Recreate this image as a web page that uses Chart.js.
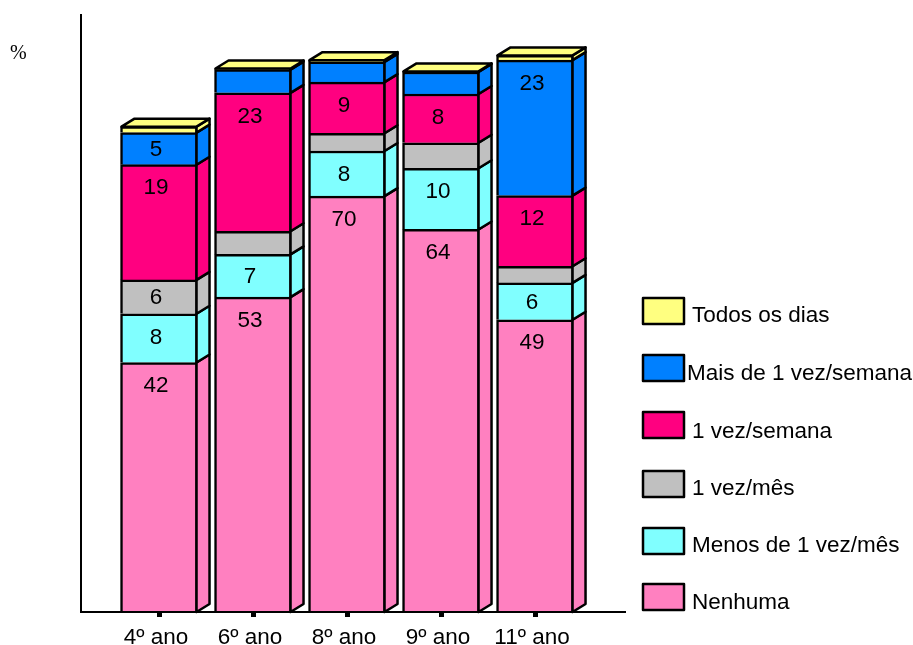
<!DOCTYPE html>
<html lang="pt">
<head>
<meta charset="utf-8">
<title>Frequência por ano</title>
<script src="https://cdn.jsdelivr.net/npm/chart.js@4"></script>
<style>
  html, body { margin: 0; padding: 0; background: #fff; }
  canvas { display: block; }
</style>
</head>
<body>
<canvas id="grafico" width="913" height="645"></canvas>
<script>
// Dados
const anos = ['4º ano', '6º ano', '8º ano', '9º ano', '11º ano'];
const nenhuma = [42, 53, 70, 64.4, 49.2];
const menosMes = [8.2, 7.2, 7.6, 10.3, 6.2];
const vezMes = [5.7, 3.9, 3.0, 4.3, 2.8];
const vezSemana = [19.4, 23.3, 8.6, 8.2, 11.9];
const maisSemana = [5.4, 3.9, 3.4, 3.7, 22.8];
const todosDias = [1.0, 0.2, 0.3, 0.1, 0.8];

const series = ['Nenhuma', 'Menos de 1 vez/mês', '1 vez/mês', '1 vez/semana', 'Mais de 1 vez/semana', 'Todos os dias'];
const valores = [nenhuma, menosMes, vezMes, vezSemana, maisSemana, todosDias];
const cores = ['#FF80C0', '#80FFFF', '#C0C0C0', '#FF0080', '#0080FF', '#FFFF80'];

const FONTE = '"Liberation Sans", Arial, sans-serif';
const TAM_FONTE = 22.5;
const DX = 13, DY = 8;   // profundidade do efeito 3D
const TRACO = 2.5;       // espessura do contorno das barras
const MIN_ROTULO = 5;    // segmentos pequenos ficam sem número

// Legenda de cima para baixo: [série, topo da caixa, x do texto, y do texto]
const legendaPos = [
    [5, 298, 692, 316],
    [4, 355, 687, 374],
    [3, 412, 692, 432],
    [2, 471, 692, 489],
    [1, 528, 692, 546],
    [0, 584, 692, 603]
];

function poligono(ctx, pts, cor) {
    ctx.beginPath();
    pts.forEach((p, i) => i ? ctx.lineTo(p[0], p[1]) : ctx.moveTo(p[0], p[1]));
    ctx.closePath();
    ctx.fillStyle = cor;
    ctx.fill();
    ctx.stroke();
}

// Faces laterais e de topo, rótulos, legenda e o símbolo de %
const barras3d = {
    id: 'barras3d',
    afterDatasetsDraw(chart) {
        const ctx = chart.ctx;
        ctx.save();
        ctx.strokeStyle = '#000';
        ctx.lineWidth = TRACO;
        ctx.lineJoin = 'round';

        chart.data.datasets.forEach((ds, d) => {
            chart.getDatasetMeta(d).data.forEach(el => {
                const dir = el.x + el.width / 2 - 1;
                poligono(ctx, [[dir, el.y], [dir + DX, el.y - DY], [dir + DX, el.base - DY], [dir, el.base]], ds.backgroundColor);
            });
        });

        const ultima = chart.data.datasets.length - 1;
        chart.getDatasetMeta(ultima).data.forEach(el => {
            const esq = el.x - el.width / 2 + 1;
            const dir = el.x + el.width / 2 - 1;
            poligono(ctx, [[esq, el.y], [esq + DX, el.y - DY], [dir + DX, el.y - DY], [dir, el.y]], cores[ultima]);
        });

        ctx.fillStyle = '#000';
        ctx.font = TAM_FONTE + 'px ' + FONTE;
        ctx.textAlign = 'center';
        ctx.textBaseline = 'middle';
        chart.data.datasets.forEach((ds, d) => {
            chart.getDatasetMeta(d).data.forEach((el, i) => {
                if (valores[d][i] < MIN_ROTULO) return;
                const altura = el.base - el.y;
                ctx.fillText(Math.round(valores[d][i]), el.x - 3, el.y + Math.min(altura / 2, 22.5) + 1);
            });
        });

        ctx.textAlign = 'left';
        legendaPos.forEach(([s, topo, xTexto, yTexto]) => {
            ctx.fillStyle = cores[s];
            ctx.fillRect(643, topo, 41, 26);
            ctx.strokeRect(643, topo, 41, 26);
            ctx.fillStyle = '#000';
            ctx.fillText(series[s], xTexto, yTexto);
        });

        ctx.font = '20px "Liberation Serif", serif';
        ctx.fillText('%', 10, 54);
        ctx.restore();
    }
};

new Chart(document.getElementById('grafico'), {
    type: 'bar',
    data: {
        datasets: series.map((nome, s) => ({
            label: nome,
            data: valores[s].map((v, i) => ({ x: i + 1, y: v })),
            backgroundColor: cores[s],
            borderColor: '#000',
            borderWidth: TRACO,
            barThickness: 77
        }))
    },
    options: {
        responsive: false,
        animation: false,
        layout: { padding: { left: 81, right: 288, top: 15, bottom: 0 } },
        plugins: {
            legend: { display: false },
            tooltip: { enabled: false }
        },
        scales: {
            x: {
                type: 'linear',
                offset: false,
                stacked: true,
                min: 0.17,
                max: 5.957,
                afterBuildTicks: axis => { axis.ticks = anos.map((a, i) => ({ value: i + 1 })); },
                afterFit: axis => { axis.height = 33; },
                ticks: {
                    color: '#000',
                    font: { family: FONTE, size: TAM_FONTE },
                    autoSkip: false,
                    maxRotation: 0,
                    labelOffset: -3,
                    padding: 7,
                    callback: (v, i) => anos[i]
                },
                grid: { offset: false, drawOnChartArea: false, tickLength: 5, tickWidth: 5, tickColor: '#000' },
                border: { color: '#000', width: 2, z: 1 }
            },
            y: {
                stacked: true,
                min: 0,
                max: 100.5,
                afterFit: axis => { axis.width = 0; },
                ticks: { display: false },
                grid: { display: false },
                border: { color: '#000', width: 2, z: 1 }
            }
        }
    },
    plugins: [barras3d]
});
</script>
</body>
</html>
